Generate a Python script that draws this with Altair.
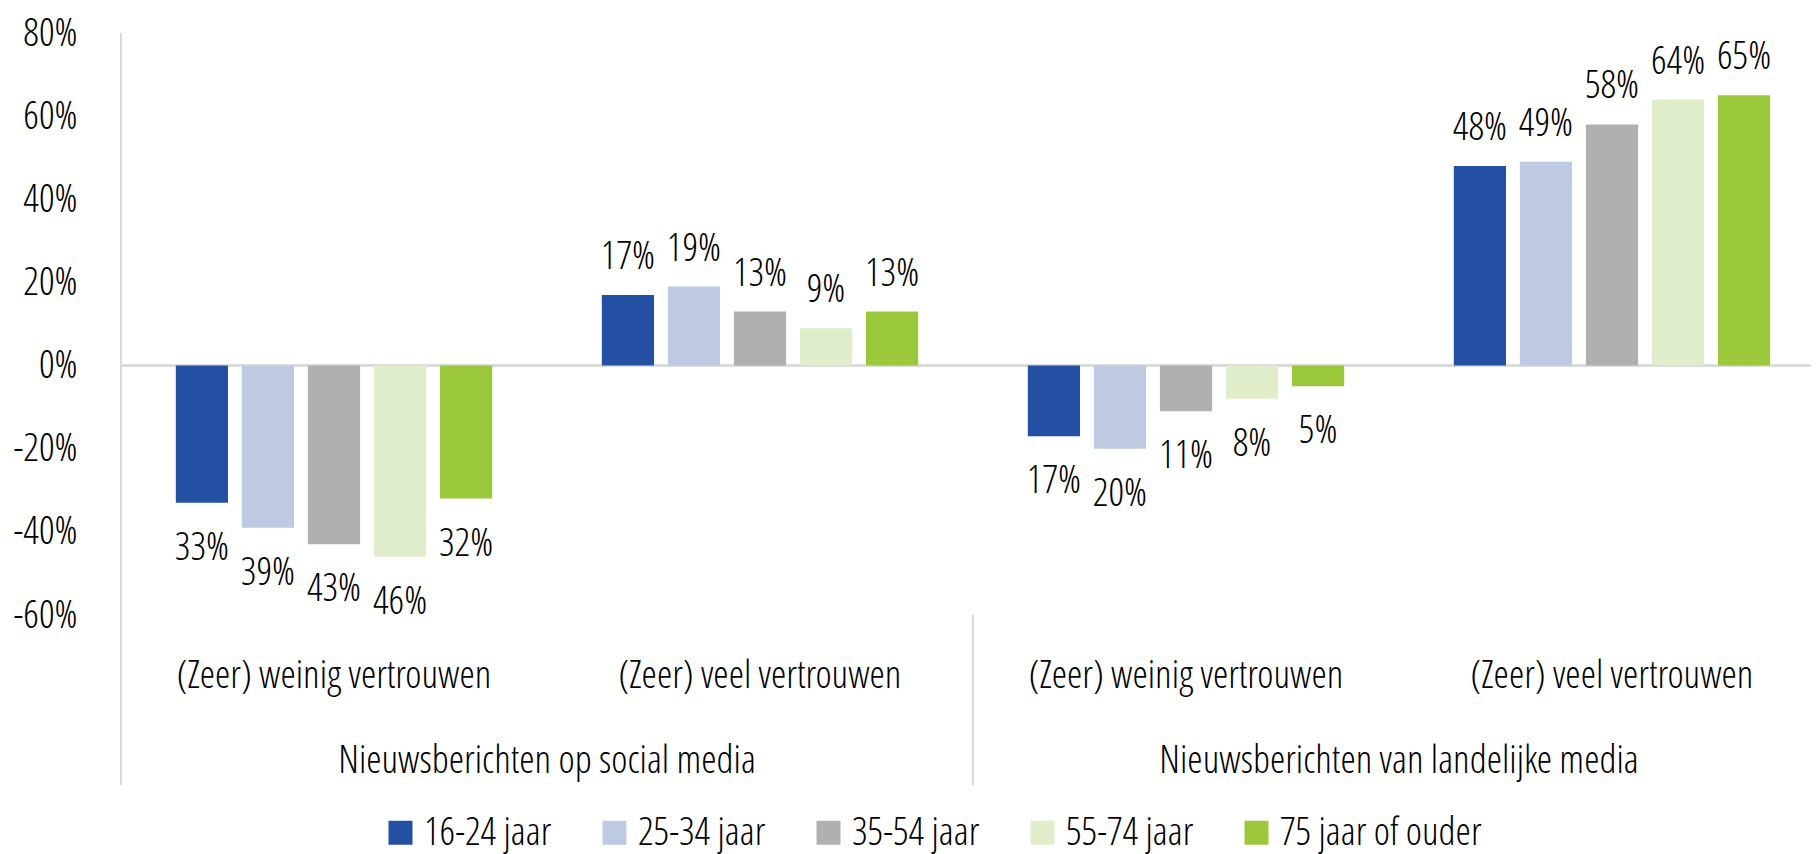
import altair as alt
import pandas as pd

# ---------------- data ----------------
groups = ["Nieuwsberichten op social media", "Nieuwsberichten van landelijke media"]
trust = ["(Zeer) weinig vertrouwen", "(Zeer) veel vertrouwen"]
ages = ["16-24 jaar", "25-34 jaar", "35-54 jaar", "55-74 jaar", "75 jaar of ouder"]
colors = ["#2450A3", "#BDCAE2", "#B0B0B0", "#E0EDCB", "#9BC83B"]

social_weinig = [-33, -39, -43, -46, -32]
social_veel = [17, 19, 13, 9, 13]
landelijk_weinig = [-17, -20, -11, -8, -5]
landelijk_veel = [48, 49, 58, 64, 65]

y_ticks = [-60, -40, -20, 0, 20, 40, 60, 80]

FONT = "'Open Sans Condensed Light', 'Open Sans Condensed', 'Liberation Sans Narrow', 'DejaVu Sans Condensed', sans-serif"
FS = 39

series = [
    (groups[0], trust[0], social_weinig),
    (groups[0], trust[1], social_veel),
    (groups[1], trust[0], landelijk_weinig),
    (groups[1], trust[1], landelijk_veel),
]
rows = []
cat_rows = []
for g, t, vals in series:
    key = g + "|" + t
    cat_rows.append({"key": key, "group": g, "trust": t})
    for a, v in zip(ages, vals):
        rows.append({"key": key, "group": g, "trust": t, "age": a,
                     "value": v, "label": f"{abs(v)}%"})
df = pd.DataFrame(rows)
df_cat = pd.DataFrame(cat_rows)
cat_order = list(df_cat["key"])
df_grp = df_cat.iloc[[0, 2]].reset_index(drop=True)
df_left = df_cat.iloc[[0]].reset_index(drop=True)
df_mid = df_cat.iloc[[2]].reset_index(drop=True)

W = 1690
H = 582

xscale = alt.Scale(domain=cat_order, paddingInner=0, paddingOuter=0, range=[0, 1704])
x_enc = alt.X("key:N", sort=cat_order, scale=xscale, axis=None)
xoff = alt.XOffset("age:N", sort=ages,
                   scale=alt.Scale(domain=ages, paddingInner=0.21, paddingOuter=0.83))
y_enc = alt.Y("value:Q",
              scale=alt.Scale(domain=[-60, 80], nice=False),
              axis=alt.Axis(values=y_ticks, labelExpr="datum.value + '%'",
                            grid=False, domain=False, ticks=False,
                            labelPadding=44, labelFont=FONT, labelFontSize=FS,
                            labelColor="#000000", labelFontWeight=300, title=None))

base = alt.Chart(df)

bars = base.mark_bar(strokeWidth=0).encode(
    x=x_enc, xOffset=xoff, y=y_enc,
    color=alt.Color("age:N", sort=ages,
                    scale=alt.Scale(domain=ages, range=colors),
                    legend=alt.Legend(orient="none", legendX=260, legendY=780,
                                      direction="horizontal", title=None,
                                      symbolType="square", symbolSize=576,
                                      symbolStrokeWidth=0, labelFont=FONT,
                                      labelFontSize=FS, labelFontWeight=300,
                                      labelColor="#000000", labelOffset=4,
                                      columnPadding=43, labelLimit=400)),
)

pos_labels = base.transform_filter("datum.value >= 0").mark_text(
    baseline="alphabetic", dy=-26, font=FONT, fontSize=FS, fontWeight=300, color="#000000"
).encode(x=x_enc, xOffset=xoff, y=alt.Y("value:Q"), text="label:N")

neg_labels = base.transform_filter("datum.value < 0").mark_text(
    baseline="alphabetic", dy=57, font=FONT, fontSize=FS, fontWeight=300, color="#000000"
).encode(x=x_enc, xOffset=xoff, y=alt.Y("value:Q"), text="label:N")

zero_rule = alt.Chart(df_cat).mark_rule(color="#D9D9D9", strokeWidth=2).encode(
    y=alt.datum(0)
)

left_rule = alt.Chart(df_left).mark_rule(color="#D9D9D9", strokeWidth=2).encode(
    x=alt.X("key:N", sort=cat_order, scale=xscale, axis=None, bandPosition=0),
    y=alt.value(0), y2=alt.value(752),
)
mid_rule = alt.Chart(df_mid).mark_rule(color="#D9D9D9", strokeWidth=2).encode(
    x=alt.X("key:N", sort=cat_order, scale=xscale, axis=None, bandPosition=0),
    y=alt.value(H), y2=alt.value(752),
)

cat_labels = alt.Chart(df_cat).mark_text(
    baseline="alphabetic", font=FONT, fontSize=FS, fontWeight=300, color="#000000"
).encode(x=x_enc, y=alt.value(655), text="trust:N")

grp_labels = alt.Chart(df_grp).mark_text(
    baseline="alphabetic", font=FONT, fontSize=FS, fontWeight=300, color="#000000"
).encode(
    x=alt.X("key:N", sort=cat_order, scale=xscale, axis=None, bandPosition=1),
    y=alt.value(740), text="group:N",
)

chart = alt.layer(
    zero_rule, left_rule, mid_rule, bars, pos_labels, neg_labels, cat_labels, grp_labels
).properties(
    width=W, height=H,
    autosize=alt.AutoSizeParams(type="none"),
    padding={"left": 113, "top": 25, "right": 0, "bottom": 246},
).configure_view(stroke=None)

chart.save("out.html", embed_options={"renderer": "svg", "actions": False})
